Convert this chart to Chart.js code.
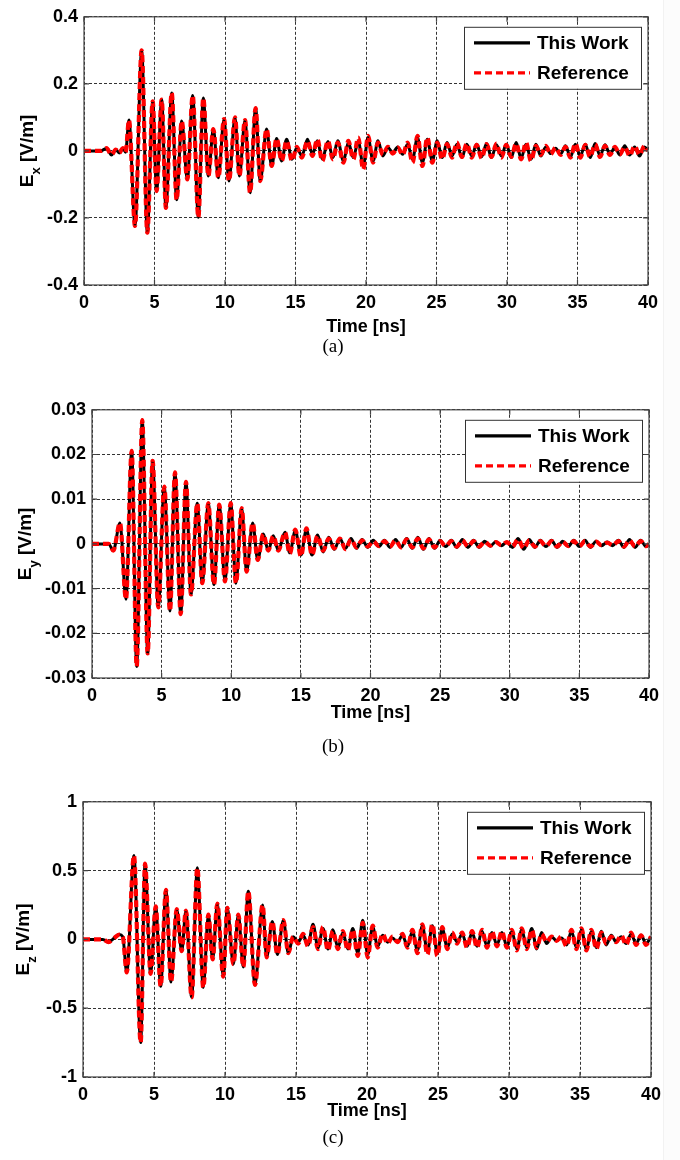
<!DOCTYPE html>
<html>
<head>
<meta charset="utf-8">
<script src="https://cdn.jsdelivr.net/npm/chart.js@4.4.1/dist/chart.umd.min.js"></script>
<style>
  html, body { margin: 0; padding: 0; background: #fff; }
  body { width: 680px; height: 1160px; position: relative; overflow: hidden; }
  .panel { position: absolute; left: 0; }
  .edge { position: absolute; left: 663px; top: 0; width: 17px; height: 1160px; background: #fcfcfc; border-left: 1px solid #f2f2f2; }
</style>
</head>
<body>
<div class="edge"></div>
<canvas id="chartA" class="panel" style="top:0px" width="680" height="390"></canvas>
<canvas id="chartB" class="panel" style="top:393px" width="680" height="390"></canvas>
<canvas id="chartC" class="panel" style="top:785px" width="680" height="375"></canvas>
<script>
// shared axis
const xTicks = [0, 5, 10, 15, 20, 25, 30, 35, 40];
const seriesNames = ['This Work', 'Reference'];

// (a) Ex
const yTicksA = [-0.4, -0.2, 0, 0.2, 0.4];
const timeA = [
  0, 1.2, 1.6, 1.95, 2.25, 2.5, 2.75, 2.95,
  3.19, 3.62, 4.09, 4.49, 4.87, 5.15, 5.51, 5.81,
  6.22, 6.57, 6.93, 7.33, 7.71, 8.11, 8.46, 8.82,
  9.17, 9.53, 9.93, 10.28, 10.71, 11.02, 11.42, 11.78,
  12.17, 12.5, 12.95, 13.31, 13.66, 14.02, 14.37, 14.75,
  15.1, 15.45, 15.85, 16.2, 16.55, 16.9, 17.3, 17.65,
  18.0, 18.4, 18.75, 19.1, 19.45, 19.8, 20.15, 20.5,
  20.85, 21.2, 21.55, 21.9, 22.25, 22.6, 22.95, 23.3,
  23.65, 24.0, 24.35, 24.7, 25.05, 25.4, 25.75, 26.1,
  26.45, 26.8, 27.15, 27.5, 27.85, 28.2, 28.55, 28.9,
  29.25, 29.6, 29.95, 30.3, 30.65, 31.0, 31.35, 31.7,
  32.05, 32.4, 32.75, 33.1, 33.45, 33.8, 34.15, 34.5,
  34.85, 35.2, 35.55, 35.9, 36.25, 36.6, 36.95, 37.3,
  37.65, 38.0, 38.35, 38.7, 39.05, 39.4, 39.75, 40
];
const workA = [
  0, 0, 0.008, -0.012, 0.004, -0.006, 0.008, -0.004,
  0.092, -0.224, 0.30, -0.244, 0.148, -0.12, 0.153, -0.17,
  0.173, -0.146, 0.089, -0.085, 0.165, -0.198, 0.158, -0.075,
  0.065, -0.08, 0.095, -0.09, 0.1, -0.075, 0.092, -0.125,
  0.128, -0.09, 0.065, -0.045, 0.037, -0.03, 0.035, -0.025,
  0.01, -0.015, 0.035, -0.01, 0.03, -0.025, 0.028, -0.02,
  0.03, -0.03, 0.025, -0.02, 0.03, -0.045, 0.04, -0.03,
  0.03, -0.015, 0.01, -0.005, 0.012, -0.01, 0.02, -0.025,
  0.04, -0.035, 0.035, -0.03, 0.03, -0.02, 0.025, -0.015,
  0.02, -0.02, 0.02, -0.015, 0.02, -0.018, 0.022, -0.02,
  0.018, -0.015, 0.02, -0.02, 0.025, -0.022, 0.02, -0.025,
  0.02, -0.015, 0.012, -0.008, 0.008, -0.01, 0.015, -0.018,
  0.02, -0.015, 0.02, -0.02, 0.022, -0.015, 0.018, -0.01,
  0.01, -0.012, 0.015, -0.012, 0.012, -0.015, 0.012, 0.002
];
const refA = [
  0, 0, 0.008, -0.012, 0.004, -0.006, 0.008, -0.004,
  0.092, -0.224, 0.30, -0.244, 0.148, -0.12, 0.153, -0.17,
  0.173, -0.146, 0.089, -0.085, 0.165, -0.198, 0.158, -0.075,
  0.065, -0.08, 0.095, -0.09, 0.1, -0.075, 0.092, -0.125,
  0.128, -0.09, 0.065, -0.045, 0.037, -0.03, 0.03, -0.03,
  0.012, -0.02, 0.03, -0.015, 0.035, -0.03, 0.03, -0.025,
  0.025, -0.035, 0.03, -0.025, 0.04, -0.055, 0.045, -0.035,
  0.025, -0.012, 0.012, -0.008, 0.01, -0.012, 0.025, -0.035,
  0.045, -0.045, 0.04, -0.035, 0.025, -0.025, 0.02, -0.02,
  0.025, -0.018, 0.022, -0.02, 0.018, -0.022, 0.02, -0.018,
  0.022, -0.02, 0.018, -0.018, 0.022, -0.025, 0.025, -0.03,
  0.015, -0.012, 0.015, -0.01, 0.01, -0.012, 0.012, -0.02,
  0.022, -0.02, 0.018, -0.018, 0.02, -0.018, 0.015, -0.012,
  0.012, -0.01, 0.012, -0.015, 0.015, -0.012, 0.015, 0
];

// (b) Ey
const yTicksB = [-0.03, -0.02, -0.01, 0, 0.01, 0.02, 0.03];
const timeB = [
  0, 1.2, 1.53, 2.01, 2.44, 2.85, 3.21, 3.61,
  4.0, 4.35, 4.76, 5.19, 5.6, 5.96, 6.37, 6.75,
  7.11, 7.56, 7.92, 8.35, 8.76, 9.14, 9.55, 9.96,
  10.34, 10.75, 11.1, 11.54, 11.9, 12.3, 12.66, 13.02,
  13.38, 13.86, 14.2, 14.6, 15.0, 15.4, 15.8, 16.2,
  16.6, 17.0, 17.4, 17.8, 18.2, 18.6, 19.0, 19.4,
  19.8, 20.2, 20.6, 21.0, 21.4, 21.8, 22.2, 22.6,
  23.0, 23.4, 23.8, 24.2, 24.6, 25.0, 25.4, 25.8,
  26.2, 26.6, 27.0, 27.4, 27.8, 28.2, 28.6, 29.0,
  29.4, 29.8, 30.2, 30.6, 31.0, 31.4, 31.8, 32.2,
  32.6, 33.0, 33.4, 33.8, 34.2, 34.6, 35.0, 35.4,
  35.8, 36.2, 36.6, 37.0, 37.4, 37.8, 38.2, 38.6,
  39.0, 39.4, 39.8, 40
];
const workB = [
  0, 0, -0.0015, 0.0047, -0.0124, 0.0208, -0.0274, 0.0277,
  -0.0245, 0.0186, -0.0142, 0.0128, -0.015, 0.016, -0.0157, 0.0139,
  -0.0113, 0.0091, -0.0088, 0.0091, -0.0091, 0.0088, -0.0084, 0.0091,
  -0.0088, 0.008, -0.0062, 0.0047, -0.0036, 0.0022, -0.0015, 0.0018,
  -0.0015, 0.0026, -0.002, 0.003, -0.0025, 0.0032, -0.0025, 0.002,
  -0.0018, 0.0015, -0.0012, 0.0012, -0.001, 0.0012, -0.001, 0.001,
  -0.0008, 0.0008, -0.0006, 0.0008, -0.0008, 0.001, -0.0008, 0.0012,
  -0.001, 0.0015, -0.0012, 0.0012, -0.001, 0.0008, -0.0006, 0.0008,
  -0.0008, 0.001, -0.0008, 0.0008, -0.0008, 0.0006, -0.0005, 0.0005,
  -0.0004, 0.0004, -0.0008, 0.0012, -0.0012, 0.001, -0.0008, 0.0008,
  -0.0006, 0.0008, -0.0008, 0.0006, -0.0006, 0.0008, -0.0006, 0.0008,
  -0.0008, 0.0006, -0.0004, 0.0004, -0.0004, 0.0008, -0.0008, 0.001,
  -0.0008, 0.0008, -0.0006, 0
];
const refB = [
  0, 0, -0.0015, 0.0047, -0.0124, 0.0208, -0.0274, 0.0277,
  -0.0245, 0.0186, -0.0142, 0.0128, -0.015, 0.016, -0.0157, 0.0139,
  -0.0113, 0.0091, -0.0088, 0.0091, -0.0091, 0.0088, -0.0084, 0.0091,
  -0.0088, 0.008, -0.0062, 0.0047, -0.0036, 0.0022, -0.0015, 0.0018,
  -0.0015, 0.0026, -0.0022, 0.0032, -0.0028, 0.0035, -0.0025, 0.0018,
  -0.0015, 0.0012, -0.001, 0.0012, -0.0012, 0.001, -0.0008, 0.0008,
  -0.0006, 0.0006, -0.0005, 0.0006, -0.0006, 0.0008, -0.0008, 0.001,
  -0.0008, 0.0012, -0.001, 0.001, -0.0008, 0.0006, -0.0005, 0.0006,
  -0.0006, 0.0008, -0.0006, 0.0006, -0.0006, 0.0005, -0.0004, 0.0004,
  -0.0003, 0.0004, -0.0006, 0.001, -0.001, 0.0008, -0.0006, 0.0006,
  -0.0005, 0.0006, -0.0006, 0.0005, -0.0005, 0.0006, -0.0005, 0.0006,
  -0.0006, 0.0005, -0.0003, 0.0003, -0.0003, 0.0006, -0.0006, 0.0008,
  -0.0006, 0.0006, -0.0005, 0
];

// (c) Ez
const yTicksC = [-1, -0.5, 0, 0.5, 1];
const timeC = [
  0, 1.4, 1.8, 2.2, 2.55, 2.8, 3.08, 3.59,
  4.06, 4.37, 4.76, 5.12, 5.47, 5.84, 6.2, 6.6,
  6.95, 7.25, 7.65, 8.05, 8.47, 8.83, 9.13, 9.46,
  9.88, 10.16, 10.59, 10.94, 11.29, 11.64, 12.11, 12.65,
  12.93, 13.33, 13.69, 14.11, 14.46, 14.8, 15.15, 15.5,
  15.85, 16.2, 16.55, 16.9, 17.25, 17.6, 17.95, 18.3,
  18.65, 19.0, 19.35, 19.7, 20.05, 20.4, 20.75, 21.1,
  21.45, 21.8, 22.15, 22.5, 22.85, 23.2, 23.55, 23.9,
  24.25, 24.6, 24.95, 25.3, 25.65, 26.0, 26.35, 26.7,
  27.05, 27.4, 27.75, 28.1, 28.45, 28.8, 29.15, 29.5,
  29.85, 30.2, 30.55, 30.9, 31.25, 31.6, 31.95, 32.3,
  32.65, 33.0, 33.35, 33.7, 34.05, 34.4, 34.75, 35.1,
  35.45, 35.8, 36.15, 36.5, 36.85, 37.2, 37.55, 37.9,
  38.25, 38.6, 38.95, 39.3, 39.65, 40
];
const workC = [
  0, 0, -0.02, 0.01, 0.035, 0.02, -0.24, 0.61,
  -0.75, 0.55, -0.25, 0.24, -0.34, 0.36, -0.31, 0.22,
  -0.085, 0.21, -0.42, 0.52, -0.35, 0.18, -0.145, 0.26,
  -0.27, 0.23, -0.18, 0.18, -0.2, 0.35, -0.33, 0.25,
  -0.13, 0.13, -0.11, 0.14, -0.1, 0.02, -0.02, 0.03,
  -0.04, 0.11, -0.06, 0.08, -0.07, 0.07, -0.06, 0.05,
  -0.07, 0.08, -0.1, 0.14, -0.11, 0.09, -0.05, 0.03,
  -0.02, 0.01, -0.02, 0.03, -0.05, 0.06, -0.08, 0.1,
  -0.09, 0.1, -0.1, 0.08, -0.06, 0.04, -0.02, 0.04,
  -0.05, 0.05, -0.05, 0.06, -0.05, 0.05, -0.04, 0.05,
  -0.05, 0.06, -0.07, 0.07, -0.06, 0.08, -0.07, 0.05,
  -0.03, 0.02, -0.01, 0.01, -0.04, 0.06, -0.06, 0.07,
  -0.07, 0.06, -0.06, 0.06, -0.04, 0.03, -0.02, 0.02,
  -0.03, 0.04, -0.03, 0.03, -0.03, 0.02
];
const refC = [
  0, 0, -0.02, 0.01, 0.035, 0.02, -0.24, 0.61,
  -0.75, 0.55, -0.25, 0.24, -0.34, 0.36, -0.31, 0.22,
  -0.085, 0.21, -0.42, 0.52, -0.35, 0.18, -0.145, 0.26,
  -0.27, 0.23, -0.18, 0.18, -0.2, 0.35, -0.33, 0.25,
  -0.13, 0.13, -0.11, 0.14, -0.1, 0.02, -0.03, 0.04,
  -0.05, 0.09, -0.07, 0.09, -0.08, 0.06, -0.07, 0.06,
  -0.08, 0.07, -0.12, 0.12, -0.13, 0.1, -0.06, 0.04,
  -0.03, 0.02, -0.02, 0.04, -0.06, 0.07, -0.1, 0.11,
  -0.11, 0.11, -0.12, 0.09, -0.07, 0.05, -0.03, 0.05,
  -0.06, 0.06, -0.06, 0.07, -0.06, 0.06, -0.05, 0.06,
  -0.06, 0.07, -0.08, 0.08, -0.07, 0.07, -0.06, 0.04,
  -0.02, 0.02, -0.01, 0.02, -0.05, 0.07, -0.07, 0.08,
  -0.08, 0.07, -0.07, 0.05, -0.03, 0.02, -0.02, 0.03,
  -0.04, 0.05, -0.04, 0.03, -0.04, 0.02
];

const RED = '#ff0000';
const SANS = '"Liberation Sans", Arial, sans-serif';

const matlabFrame = {
  id: 'matlabFrame',
  afterDraw(chart, args, o) {
    const { ctx, chartArea: a, scales: { x, y } } = chart;
    ctx.save();

    // axes box + inward ticks
    ctx.strokeStyle = '#444';
    ctx.lineWidth = 1.2;
    ctx.setLineDash([]);
    ctx.strokeRect(a.left, a.top, a.right - a.left, a.bottom - a.top);
    ctx.beginPath();
    xTicks.forEach(v => {
      const px = x.getPixelForValue(v);
      ctx.moveTo(px, a.bottom); ctx.lineTo(px, a.bottom - 5);
      ctx.moveTo(px, a.top); ctx.lineTo(px, a.top + 5);
    });
    o.yTicks.forEach(v => {
      const py = y.getPixelForValue(v);
      ctx.moveTo(a.left, py); ctx.lineTo(a.left + 5, py);
      ctx.moveTo(a.right, py); ctx.lineTo(a.right - 5, py);
    });
    ctx.stroke();

    // legend box
    const bw = 177, bh = 62;
    const bx = a.right - 7 - bw, by = a.top + 10;
    ctx.fillStyle = '#fff';
    ctx.fillRect(bx, by, bw, bh);
    ctx.strokeStyle = '#333';
    ctx.lineWidth = 1;
    ctx.strokeRect(bx + 0.5, by + 0.5, bw, bh);
    const ds = chart.data.datasets;
    [[by + 16, ds[1]], [by + 46, ds[0]]].forEach(([ly, d]) => {
      ctx.strokeStyle = d.borderColor;
      ctx.lineWidth = 3.2;
      ctx.setLineDash(d.borderDash || []);
      ctx.beginPath();
      ctx.moveTo(bx + 10, ly); ctx.lineTo(bx + 66, ly);
      ctx.stroke();
      ctx.setLineDash([]);
      ctx.fillStyle = '#000';
      ctx.font = 'bold 19px ' + SANS;
      ctx.textBaseline = 'middle';
      ctx.textAlign = 'left';
      ctx.fillText(d.label, bx + 73, ly + 1);
    });

    // x title
    ctx.fillStyle = '#000';
    ctx.font = 'bold 18px ' + SANS;
    ctx.textAlign = 'center';
    ctx.textBaseline = 'middle';
    ctx.fillText('Time [ns]', (a.left + a.right) / 2, a.bottom + o.titleGap);

    // y title with subscript
    ctx.save();
    ctx.translate(o.yTitleX, (a.top + a.bottom) / 2);
    ctx.rotate(-Math.PI / 2);
    ctx.textAlign = 'left';
    ctx.textBaseline = 'alphabetic';
    const big = 'bold 19px ' + SANS, small = 'bold 13px ' + SANS;
    ctx.font = big;
    const wE = ctx.measureText('E').width, wR = ctx.measureText(' [V/m]').width;
    ctx.font = small;
    const wS = ctx.measureText(o.sub).width;
    let x0 = -(wE + wS + wR) / 2;
    ctx.font = big; ctx.fillText('E', x0, 7);
    ctx.font = small; ctx.fillText(o.sub, x0 + wE, 14);
    ctx.font = big; ctx.fillText(' [V/m]', x0 + wE + wS, 7);
    ctx.restore();

    // caption
    ctx.font = '19px "Liberation Serif", "Times New Roman", serif';
    ctx.textAlign = 'center';
    ctx.textBaseline = 'middle';
    ctx.fillText(o.caption, o.captionX, a.bottom + o.captionGap);

    ctx.restore();
  }
};

function makePanel(id, time, work, ref, yTicks, box, extra) {
  const canvas = document.getElementById(id);
  const H = canvas.height;
  const pts = vals => time.map((t, i) => ({ x: t, y: vals[i] }));
  const tickFont = { family: SANS, size: 18, weight: 'bold' };
  const grid = { color: '#333', lineWidth: 1, drawTicks: false };
  const border = { display: false, dash: [3, 2] };
  return new Chart(canvas, {
    type: 'line',
    data: {
      datasets: [
        { label: seriesNames[1], data: pts(ref), borderColor: RED, borderWidth: 4.2, borderDash: [7, 4], order: 1 },
        { label: seriesNames[0], data: pts(work), borderColor: '#000', borderWidth: 3, order: 2 }
      ]
    },
    options: {
      responsive: false,
      animation: false,
      events: [],
      layout: { padding: { top: box.top, right: 680 - box.right, left: 0, bottom: 0 } },
      elements: {
        point: { radius: 0 },
        line: { cubicInterpolationMode: 'monotone', fill: false }
      },
      plugins: {
        legend: { display: false },
        tooltip: { enabled: false },
        matlabFrame: Object.assign({ yTicks }, extra)
      },
      scales: {
        x: {
          type: 'linear', min: 0, max: 40,
          afterBuildTicks: s => { s.ticks = xTicks.map(v => ({ value: v })); },
          afterFit: s => { s.height = H - box.bottom; },
          ticks: { color: '#000', font: tickFont, padding: 7, maxRotation: 0, autoSkip: false, callback: v => String(v) },
          grid, border
        },
        y: {
          type: 'linear', min: yTicks[0], max: yTicks[yTicks.length - 1],
          afterBuildTicks: s => { s.ticks = yTicks.map(v => ({ value: v })); },
          afterFit: s => { s.width = box.left; },
          ticks: { color: '#000', font: tickFont, padding: 6, callback: v => String(v) },
          grid, border
        }
      }
    },
    plugins: [matlabFrame]
  });
}

makePanel('chartA', timeA, workA, refA, yTicksA,
  { left: 84, right: 648, top: 14, bottom: 285 },
  { sub: 'x', yTitleX: 26, titleGap: 42, caption: '(a)', captionX: 333, captionGap: 62 });
makePanel('chartB', timeB, workB, refB, yTicksB,
  { left: 92, right: 649, top: 14, bottom: 285 },
  { sub: 'y', yTitleX: 24, titleGap: 35, caption: '(b)', captionX: 333, captionGap: 69 });
makePanel('chartC', timeC, workC, refC, yTicksC,
  { left: 83, right: 651, top: 14, bottom: 292 },
  { sub: 'z', yTitleX: 22, titleGap: 34, caption: '(c)', captionX: 333, captionGap: 61 });
</script>
</body>
</html>
